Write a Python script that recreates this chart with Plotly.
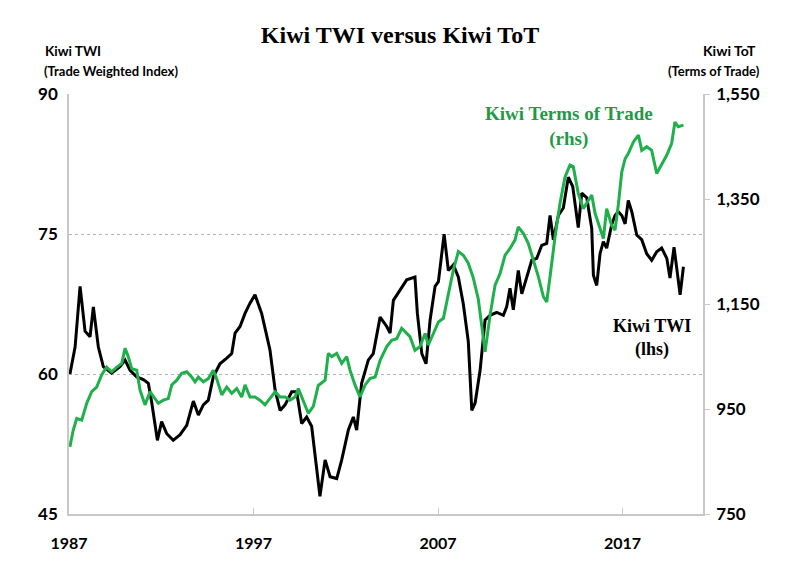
import plotly.graph_objects as go

# Kiwi TWI (lhs) — decimal year, index value
twi_year = [1987.05, 1987.33, 1987.60, 1987.87, 1988.14, 1988.32, 1988.59, 1988.86, 1989.31, 1989.76,
            1990.04, 1990.31, 1990.67, 1991.03, 1991.30, 1991.48, 1991.79, 1992.02, 1992.30, 1992.65,
            1993.02, 1993.38, 1993.74, 1994.01, 1994.28, 1994.55, 1994.82, 1995.18, 1995.55, 1995.82,
            1996.00, 1996.27, 1996.54, 1996.81, 1997.08, 1997.44, 1997.89, 1998.17, 1998.44, 1998.71,
            1999.07, 1999.34, 1999.61, 1999.88, 2000.15, 2000.43, 2000.60, 2000.88, 2001.15, 2001.51,
            2001.78, 2002.14, 2002.41, 2002.59, 2002.86, 2003.22, 2003.49, 2003.86, 2004.22, 2004.40,
            2004.58, 2004.94, 2005.30, 2005.75, 2005.88, 2006.12, 2006.35, 2006.57, 2006.84, 2007.02,
            2007.33, 2007.56, 2007.83, 2008.10, 2008.37, 2008.64, 2008.83, 2009.01, 2009.28, 2009.55,
            2009.82, 2010.18, 2010.54, 2010.72, 2010.90, 2011.08, 2011.35, 2011.54, 2011.81, 2012.08,
            2012.35, 2012.62, 2012.89, 2013.07, 2013.25, 2013.52, 2013.79, 2014.06, 2014.30, 2014.60,
            2014.79, 2015.06, 2015.33, 2015.42, 2015.60, 2015.78, 2015.96, 2016.14, 2016.41, 2016.59,
            2016.77, 2016.96, 2017.14, 2017.31, 2017.50, 2017.77, 2018.04, 2018.31, 2018.58, 2018.85,
            2019.12, 2019.40, 2019.57, 2019.79, 2019.94, 2020.12, 2020.30]
twi_value = [60.0, 62.9, 69.4, 64.6, 64.0, 67.2, 62.9, 60.8, 60.1, 60.8,
             61.5, 60.4, 59.7, 59.4, 59.0, 57.0, 52.9, 54.9, 53.6, 52.9,
             53.5, 54.5, 57.1, 55.6, 56.7, 57.2, 59.7, 61.1, 61.7, 62.2,
             64.4, 65.1, 66.5, 67.6, 68.5, 66.5, 62.6, 58.3, 56.1, 56.7,
             58.1, 58.1, 54.7, 55.4, 54.4, 49.4, 46.9, 50.8, 49.0, 48.8,
             50.8, 54.0, 55.4, 54.0, 59.0, 61.5, 62.2, 66.1, 65.1, 64.4,
             67.9, 69.0, 70.1, 70.4, 66.5, 62.2, 61.1, 65.8, 69.4, 69.9,
             75.0, 71.1, 71.7, 70.4, 67.5, 63.5, 56.1, 56.9, 60.4, 65.8,
             66.3, 66.6, 66.3, 67.2, 69.2, 66.9, 71.1, 68.6, 70.4, 72.2,
             72.4, 73.8, 74.0, 77.0, 74.4, 77.0, 77.8, 81.1, 80.1, 75.7,
             79.4, 78.9, 75.6, 70.6, 69.5, 72.9, 74.2, 73.5, 76.0, 77.0,
             77.4, 77.0, 76.1, 78.6, 77.4, 74.9, 74.4, 72.9, 72.2, 73.1,
             73.5, 72.4, 70.3, 73.6, 71.3, 68.5, 71.5]

# Kiwi Terms of Trade (rhs)
tot_year = [1987.05, 1987.23, 1987.42, 1987.69, 1987.96, 1988.23, 1988.50, 1988.77, 1989.04, 1989.31,
            1989.59, 1989.86, 1990.04, 1990.21, 1990.40, 1990.67, 1990.85, 1991.12, 1991.39, 1991.66,
            1991.84, 1992.11, 1992.38, 1992.57, 1992.84, 1993.11, 1993.38, 1993.65, 1993.83, 1994.01,
            1994.28, 1994.55, 1994.82, 1995.00, 1995.28, 1995.55, 1995.82, 1996.09, 1996.36, 1996.54,
            1996.81, 1997.08, 1997.35, 1997.62, 1997.89, 1998.17, 1998.44, 1998.71, 1998.98, 1999.25,
            1999.43, 1999.70, 1999.97, 2000.24, 2000.51, 2000.88, 2001.05, 2001.24, 2001.51, 2001.78,
            2002.05, 2002.23, 2002.50, 2002.77, 2003.05, 2003.31, 2003.59, 2003.86, 2004.22, 2004.49,
            2004.76, 2005.03, 2005.30, 2005.48, 2005.75, 2006.02, 2006.30, 2006.47, 2006.75, 2007.02,
            2007.29, 2007.56, 2007.83, 2008.10, 2008.37, 2008.64, 2008.91, 2009.18, 2009.37, 2009.55,
            2009.82, 2010.09, 2010.36, 2010.63, 2010.90, 2011.17, 2011.35, 2011.62, 2011.89, 2012.17,
            2012.44, 2012.71, 2012.89, 2013.07, 2013.34, 2013.61, 2013.88, 2014.15, 2014.33, 2014.60,
            2014.87, 2015.15, 2015.33, 2015.51, 2015.78, 2015.96, 2016.14, 2016.41, 2016.59, 2016.77,
            2016.96, 2017.14, 2017.31, 2017.59, 2017.86, 2018.04, 2018.31, 2018.58, 2018.85, 2019.12,
            2019.40, 2019.66, 2019.84, 2020.02, 2020.30]
tot_value = [878, 910, 932, 929, 961, 983, 992, 1015, 1030, 1021,
             1030, 1037, 1066, 1050, 1027, 1024, 986, 958, 983, 970,
             961, 967, 970, 996, 1005, 1018, 1021, 1011, 1002, 1011,
             1002, 1008, 1024, 1008, 977, 992, 980, 989, 973, 996,
             973, 973, 967, 958, 970, 983, 973, 973, 967, 973,
             989, 965, 942, 955, 995, 1005, 1056, 1050, 1056, 1037,
             1050, 1024, 996, 973, 996, 1008, 1011, 1043, 1069, 1081,
             1084, 1104, 1094, 1088, 1062, 1069, 1094, 1072, 1094, 1116,
             1123, 1170, 1215, 1250, 1243, 1228, 1200, 1160, 1107, 1059,
             1129, 1186, 1208, 1243, 1256, 1272, 1297, 1285, 1266, 1234,
             1202, 1164, 1154, 1202, 1278, 1342, 1392, 1415, 1412, 1361,
             1332, 1348, 1358, 1323, 1294, 1275, 1332, 1300, 1291, 1339,
             1402, 1427, 1437, 1459, 1472, 1443, 1450, 1443, 1399, 1415,
             1434, 1456, 1497, 1488, 1491]

x_ticks = [1987, 1997, 2007, 2017]
left_ticks = [45, 60, 75, 90]
right_ticks = [750, 950, 1150, 1350, 1550]
right_tick_text = ["750", "950", "1,150", "1,350", "1,550"]

GREEN = "#1fb04c"
AXIS_GRAY = "#c8c8c8"
LABEL_FONT = "Lato, 'Open Sans', sans-serif"
SERIF = "'Liberation Serif', 'DejaVu Serif', serif"

# page body adds an 8px offset; positions below are in page pixels minus that offset
OFF = 8
L, T = 69 - OFF, 94 - OFF
PW, PH = 634, 420
R, B = 800 - L - PW, 564 - T - PH


def px(x):
    return (x - OFF - L) / PW


def py(y):
    return 1 - (y - OFF - T) / PH


fig = go.Figure()
fig.add_trace(go.Scatter(x=tot_year, y=tot_value, yaxis="y2", mode="lines",
                         line=dict(color=GREEN, width=3), name="Kiwi Terms of Trade (rhs)"))
fig.add_trace(go.Scatter(x=twi_year, y=twi_value, yaxis="y", mode="lines",
                         line=dict(color="#000000", width=3), name="Kiwi TWI (lhs)"))

fig.update_layout(
    width=800, height=564,
    margin=dict(l=L, r=R, t=T, b=B, autoexpand=False),
    paper_bgcolor="white", plot_bgcolor="white",
    showlegend=False,
    title=dict(text="<b>Kiwi TWI versus Kiwi ToT</b>", x=px(400), xanchor="center",
               xref="paper", y=1 - (35 - OFF) / 564, yanchor="middle",
               font=dict(family=SERIF, size=24, color="#000")),
    xaxis=dict(range=[1987, 2021.36], tickvals=x_ticks, ticktext=[str(v) for v in x_ticks],
               showgrid=False, zeroline=False, showline=True, linecolor=AXIS_GRAY, linewidth=1.5,
               ticks="inside", ticklen=6, tickcolor=AXIS_GRAY, tickwidth=1,
               ticklabelstandoff=14, automargin=False,
               tickfont=dict(family=LABEL_FONT, size=16, color="#000", weight="bold"), fixedrange=True),
    yaxis=dict(range=[45, 90.02], tickvals=left_ticks, showgrid=True, gridcolor="#b4b4b4",
               griddash="3px,3px", gridwidth=1, zeroline=False, showline=True,
               linecolor=AXIS_GRAY, linewidth=1.5, ticks="",
               ticklabelstandoff=6, automargin=False,
               tickfont=dict(family=LABEL_FONT, size=17, color="#000", weight="bold")),
    yaxis2=dict(range=[750, 1550.4], tickvals=right_ticks, ticktext=right_tick_text,
                overlaying="y", side="right", showgrid=False, zeroline=False,
                showline=True, linecolor=AXIS_GRAY, linewidth=1.5,
                ticks="outside", ticklen=5, tickcolor=AXIS_GRAY,
                ticklabelstandoff=3, automargin=False,
                tickfont=dict(family=LABEL_FONT, size=17, color="#000", weight="bold")),
)

ann = [
    dict(text="Kiwi TWI", x=43, y=51, size=13.5, xanchor="left"),
    dict(text="(Trade Weighted Index)", x=42, y=71, size=13, xanchor="left"),
    dict(text="Kiwi ToT", x=758, y=51, size=14, xanchor="right"),
    dict(text="(Terms of Trade)", x=762, y=71, size=13, xanchor="right"),
]
for a in ann:
    fig.add_annotation(text=a["text"], xref="paper", yref="paper",
                       x=px(a["x"]), y=py(a["y"]),
                       xanchor=a["xanchor"], yanchor="middle", showarrow=False,
                       font=dict(family=LABEL_FONT, size=a["size"], color="#000", weight="bold"))

fig.add_annotation(text="<b>Kiwi Terms of Trade</b><br><b>(rhs)</b>", xref="paper", yref="paper",
                   x=px(569), y=py(127), xanchor="center", yanchor="middle",
                   showarrow=False, align="center",
                   font=dict(family=SERIF, size=19, color="#1f9a45"))
fig.add_annotation(text="<b>Kiwi TWI</b><br><b>(lhs)</b>", xref="paper", yref="paper",
                   x=px(652), y=py(338), xanchor="center", yanchor="middle",
                   showarrow=False, align="center",
                   font=dict(family=SERIF, size=18, color="#000"))

fig.write_html("out.html")
